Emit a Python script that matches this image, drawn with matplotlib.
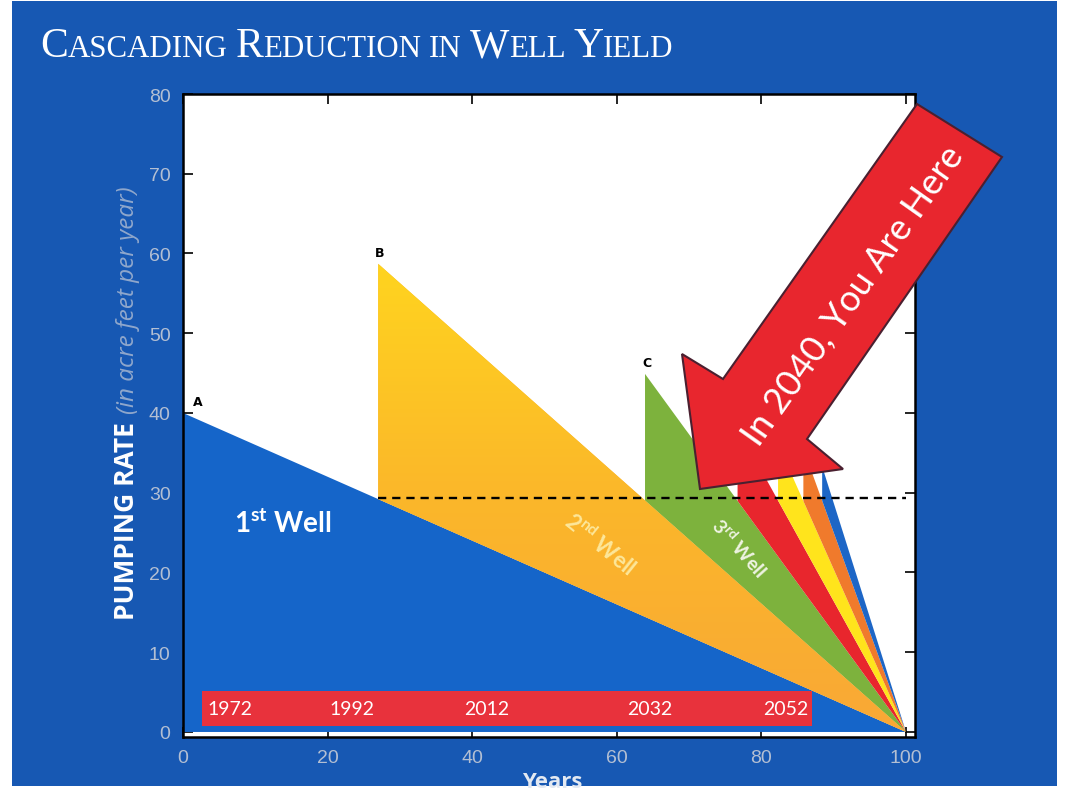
import matplotlib
matplotlib.use("Agg")
import matplotlib.pyplot as plt
import numpy as np
from matplotlib.patches import Polygon, Rectangle
from matplotlib.colors import LinearSegmentedColormap

# successive wells: year the well is drilled, starting pumping rate
well_start = [0, 27.0, 63.9, 76.7, 82.3, 85.8, 88.4]
well_peak = [40, 58.7, 44.9, 38.2, 36.1, 35.5, 33.3]
well_colors = ["#1565c9", "#fbb22e", "#7db23d", "#e8262d", "#ffe41c", "#f07a2c", "#1d66c6"]
well_marks = ["A", "B", "C"]
end_year = 100
threshold = 29.3

year_labels = ["1972", "1992", "2012", "2032", "2052"]
year_label_pos = [6.5, 23.4, 42.0, 64.6, 83.3]

W, H = 1069, 804
BG = "#1758b3"

plt.rcParams["mathtext.fontset"] = "custom"
plt.rcParams["mathtext.rm"] = "Lato"
plt.rcParams["mathtext.bf"] = "Lato:bold"


def fx(px):
    return px / W


def fy(py):
    return 1 - py / H


def small_caps(fig, x0, y0, text, big, small, **kw):
    # fake small caps: upper case letters big, lower case letters small upper
    r = fig.canvas.get_renderer()
    x = x0
    for word in text.split(" "):
        runs = []
        for ch in word:
            size = big if ch.isupper() else small
            if runs and runs[-1][1] == size:
                runs[-1][0] += ch.upper()
            else:
                runs.append([ch.upper(), size])
        for s, size in runs:
            t = fig.text(fx(x), fy(y0), s, fontsize=size, va="baseline", ha="left", **kw)
            x += t.get_window_extent(r).width
        x += small * 0.35


fig = plt.figure(figsize=(W / 100, H / 100), dpi=100)
fig.patch.set_facecolor("white")
fig.add_artist(Rectangle((fx(12), fy(787)), fx(1057) - fx(12), fy(2) - fy(787),
                         transform=fig.transFigure, facecolor=BG, edgecolor="none", zorder=-5))

ax = fig.add_axes([fx(183), fy(738), fx(915) - fx(183), fy(95) - fy(738)])
ax.set_facecolor("white")

prev = None
for i, (x0, p) in enumerate(zip(well_start, well_peak)):
    if prev is None:
        base = 0.0
    else:
        px0, pp = prev
        base = pp * (end_year - x0) / (end_year - px0)
    verts = [(x0, base), (x0, p), (end_year, 0)]
    if i == 0:
        verts = [(x0, 0), (x0, p), (end_year, 0)]
    poly = Polygon(verts, closed=True, facecolor=well_colors[i], edgecolor="none", zorder=2)
    ax.add_patch(poly)
    if i == 1:
        cmap = LinearSegmentedColormap.from_list("w2", ["#f9a836", "#fbb72a", "#ffd41f"])
        grad = np.linspace(0, 1, 256).reshape(-1, 1)
        im = ax.imshow(grad, cmap=cmap, origin="lower", aspect="auto",
                       extent=[x0, end_year, 0, p], zorder=2.1)
        im.set_clip_path(poly)
    if i < len(well_marks):
        dx = 2.0 if i == 0 else 0.2
        ax.text(x0 + dx, p + 1.4, well_marks[i], fontsize=9, fontweight="bold",
                ha="center", va="center", color="black", family="DejaVu Sans", zorder=4)
    prev = (x0, p)

ax.plot([well_start[1], end_year], [threshold, threshold], color="black", lw=1.7,
        ls=(0, (3.5, 2.5)), zorder=3)

# timeline bar
ax.add_patch(Rectangle((2.6, 0.75), 84.4, 4.35, facecolor="#e8323c", edgecolor="none", zorder=3))
for lab, xp in zip(year_labels, year_label_pos):
    ax.text(xp, 2.9, lab, color="white", fontsize=14, family="Lato", ha="center", va="center", zorder=4)

ax.text(13.8, 26.3, r"1$^{\mathbf{st}}$ Well", color="white", fontsize=20, fontweight="bold",
        family="Lato", ha="center", va="center", zorder=4)
ax.text(57.7, 23.6, r"2$^{\mathbf{nd}}$ Well", color="#fde79a", fontsize=16, fontweight="bold",
        family="Lato", ha="center", va="center", rotation=-39, zorder=4)
ax.text(77.0, 23.2, r"3$^{\mathbf{rd}}$ Well", color="#eef3e2", fontsize=14, fontweight="bold",
        family="Lato", ha="center", va="center", rotation=-48, zorder=4)

ax.set_xlim(0, 101.24)
ax.set_ylim(-0.63, 80)
ax.set_xticks([0, 20, 40, 60, 80, 100])
ax.set_yticks(range(0, 81, 10))
ax.tick_params(direction="in", length=7, width=1.2, top=True, right=True, color="black",
               labelcolor="#b3bfd3", labelsize=14, pad=9)
for lab in ax.get_xticklabels() + ax.get_yticklabels():
    lab.set_family("Liberation Sans")
for s in ax.spines.values():
    s.set_linewidth(1.8)
    s.set_color("black")

# y axis label in two styles
fig.text(fx(134), fy(620), "PUMPING RATE", rotation=90, rotation_mode="anchor", ha="left",
         va="baseline", color="white", fontsize=19, fontweight="bold", family="Open Sans")
fig.text(fx(134), fy(414), "(in acre feet per year)", rotation=90, rotation_mode="anchor",
         ha="left", va="baseline", color="#8fa7cc", fontsize=17.5, style="italic", family="Open Sans")

fig.text(fx(552), fy(783), "Years", ha="center", va="center", color="#e3e9f2", fontsize=16,
         fontweight="bold", family="Open Sans")

small_caps(fig, 40, 57, "Cascading Reduction in Well Yield", 30, 22.2,
           color="white", family="Liberation Serif")

# "you are here" arrow
arrow_px = [(700, 490), (843, 470), (807, 440), (1002, 158), (917, 105), (723, 380), (682, 355)]
fig.add_artist(Polygon([(fx(a), fy(b)) for a, b in arrow_px], closed=True, transform=fig.transFigure,
                       facecolor="#e8262e", edgecolor="#4a2030", lw=1.5, zorder=10))
fig.text(fx(853), fy(296), "In 2040, You Are Here", rotation=54.8, rotation_mode="anchor",
         ha="center", va="center", color="white", fontsize=26, family="Lato", zorder=11)

fig.savefig("out.png", dpi=100, facecolor="white")
